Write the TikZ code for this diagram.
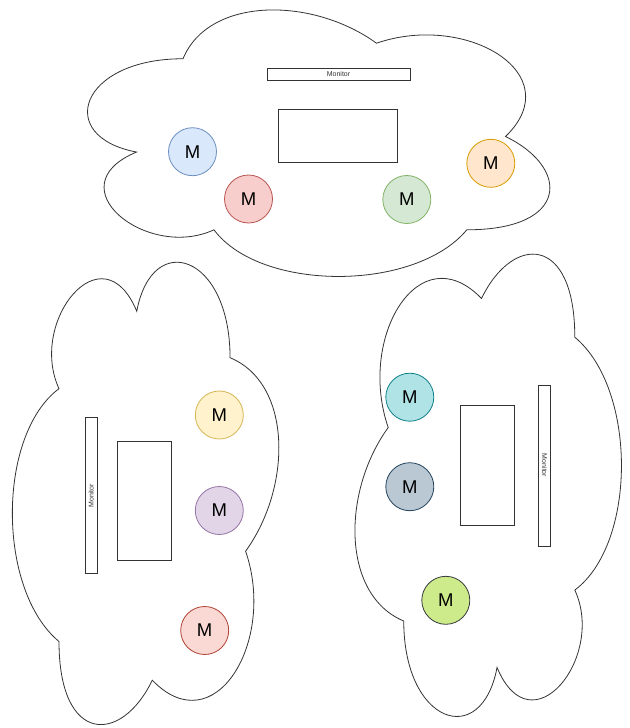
\documentclass[tikz,border=0pt]{standalone}
\usepackage{fontspec}
\setmainfont{Liberation Sans}
\definecolor{bluef}{HTML}{DAE8FC}\definecolor{blued}{HTML}{6C8EBF}
\definecolor{redf}{HTML}{F8CECC}\definecolor{redd}{HTML}{B85450}
\definecolor{greenf}{HTML}{D5E8D4}\definecolor{greend}{HTML}{82B366}
\definecolor{orangef}{HTML}{FFE6CC}\definecolor{oranged}{HTML}{D79B00}
\definecolor{yellowf}{HTML}{FFF2CC}\definecolor{yellowd}{HTML}{D6B656}
\definecolor{purplef}{HTML}{E1D5E7}\definecolor{purpled}{HTML}{9673A6}
\definecolor{pinkf}{HTML}{FAD9D5}\definecolor{pinkd}{HTML}{AE4132}
\definecolor{cyanf}{HTML}{B0E3E6}\definecolor{cyand}{HTML}{0E8088}
\definecolor{grayf}{HTML}{BAC8D3}\definecolor{grayd}{HTML}{23445D}
\definecolor{limef}{HTML}{CDEB8B}\definecolor{limed}{HTML}{36393D}
\definecolor{linec}{HTML}{333333}
\newcommand\mfont{\fontsize{18.5}{20}\selectfont}
\newcommand\smallmon{\fontsize{7}{8}\selectfont}
\newcommand\cloudpath{(-0.25,-0.25)
  .. controls (-0.45,-0.25) and (-0.5,0) .. (-0.34,0.05)
  .. controls (-0.5,0.16) and (-0.32,0.4) .. (-0.19,0.3)
  .. controls (-0.1,0.5) and (0.2,0.5) .. (0.3,0.3)
  .. controls (0.5,0.3) and (0.5,0.1) .. (0.375,0)
  .. controls (0.5,-0.2) and (0.3,-0.4) .. (0.125,-0.3)
  .. controls (0,-0.45) and (-0.2,-0.45) .. (-0.25,-0.25) -- cycle}
\tikzset{
  cloudline/.style={draw=linec, fill=white, line width=0.8pt},
  mcirc/.style={circle, minimum size=48pt, inner sep=0pt, line width=0.8pt, font=\mfont},
  boxnode/.style={draw=linec, fill=white, line width=0.9pt, inner sep=0pt},
  monnode/.style={draw=linec, fill=white, line width=0.9pt, inner sep=0pt, font=\smallmon, text=linec},
}
\begin{document}
\begin{tikzpicture}[x=1pt, y=-1pt]
\useasboundingbox[fill=white] (0,0) rectangle (629,728);
% clouds
\begin{scope}[shift={(312,136.5)}, xscale=516, yscale=311]
  \path[cloudline] \cloudpath;
\end{scope}
\begin{scope}[shift={(152.3,486.7)}, rotate=-90, xscale=516, yscale=311]
  \path[cloudline] \cloudpath;
\end{scope}
\begin{scope}[shift={(481.5,492)}, rotate=90, xscale=516, yscale=311]
  \path[cloudline] \cloudpath;
\end{scope}
% top cloud contents
\node[monnode, minimum width=143pt, minimum height=12pt] (montop) at (338.5,74) {Monitor};
\node[boxnode, minimum width=119pt, minimum height=53pt] (boxtop) at (338,136) {};
\node[mcirc, draw=blued, fill=bluef] (m1) at (192.5,151.7) {M};
\node[mcirc, draw=redd, fill=redf] (m2) at (248.5,199) {M};
\node[mcirc, draw=greend, fill=greenf] (m3) at (406.8,199.5) {M};
\node[mcirc, draw=oranged, fill=orangef] (m4) at (490.8,163.3) {M};
% left cloud contents
\node[monnode, minimum width=155.5pt, minimum height=12pt, rotate=90] (monleft) at (91.2,495.5) {Monitor};
\node[boxnode, minimum width=54pt, minimum height=119pt] (boxleft) at (144.8,501.3) {};
\node[mcirc, draw=yellowd, fill=yellowf] (m5) at (219.3,415) {M};
\node[mcirc, draw=purpled, fill=purplef] (m6) at (219.3,510.5) {M};
\node[mcirc, draw=pinkd, fill=pinkf] (m7) at (204.7,630.5) {M};
% right cloud contents
\node[monnode, minimum width=161pt, minimum height=11.5pt, rotate=-90] (monright) at (544.5,465.5) {Monitor};
\node[boxnode, minimum width=53.5pt, minimum height=119.5pt] (boxright) at (487.5,465.5) {};
\node[mcirc, draw=cyand, fill=cyanf] (m8) at (409.8,397.2) {M};
\node[mcirc, draw=grayd, fill=grayf] (m9) at (409.8,486.7) {M};
\node[mcirc, draw=limed, fill=limef] (m10) at (445.8,600.3) {M};
\end{tikzpicture}
\end{document}
